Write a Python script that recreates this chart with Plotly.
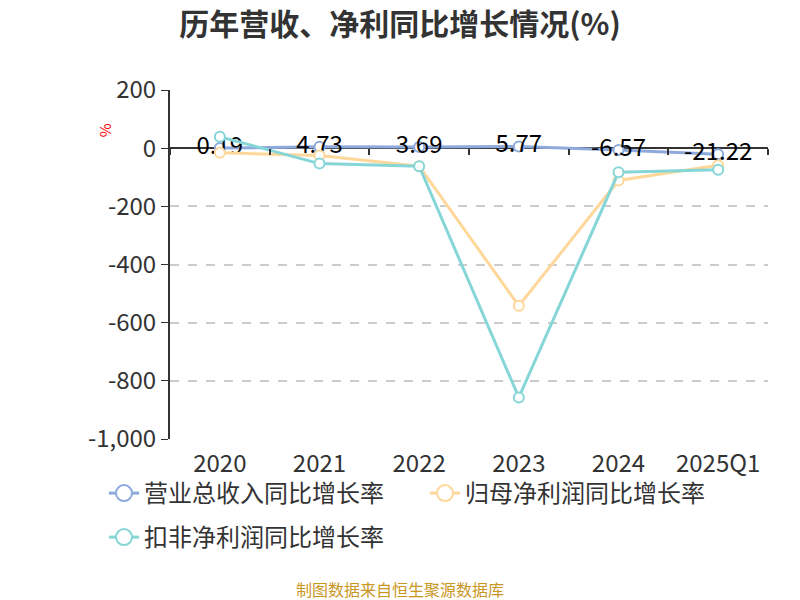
import plotly.graph_objects as go

FONT = "Noto Sans CJK SC"

years = ["2020", "2021", "2022", "2023", "2024", "2025Q1"]
revenue_growth = [0.19, 4.73, 3.69, 5.77, -6.57, -21.22]
net_profit_growth = [-16, -25, -62, -542, -111, -59]
deducted_profit_growth = [39, -53, -62, -857, -83, -74]
y_ticks = [200, 0, -200, -400, -600, -800, -1000]
y_tick_text = ["200", "0", "-200", "-400", "-600", "-800", "-1,000"]

series_names = ["营业总收入同比增长率", "归母净利润同比增长率", "扣非净利润同比增长率"]

BLUE = "#8eaadc"
ORANGE = "#fed89a"
CYAN = "#86d6d8"


def line_trace(name, values, color, labels=False):
    return go.Scatter(
        x=years,
        y=values,
        name=name,
        showlegend=False,
        mode="lines+markers+text" if labels else "lines+markers",
        text=[f"{v:.2f}" for v in values] if labels else None,
        textposition="middle center",
        textfont=dict(size=24, color="#000000", family=FONT),
        line=dict(color=color, width=3),
        marker=dict(size=10, color="white", line=dict(color=color, width=2)),
        cliponaxis=False,
    )


def legend_entry(name, color, legend):
    """Legend-only stand-in so the legend circle can be larger than the plot markers."""
    return go.Scatter(
        x=[None],
        y=[None],
        name=name,
        legend=legend,
        mode="lines+markers",
        line=dict(color=color, width=3),
        marker=dict(size=18, color="white", line=dict(color=color, width=2)),
        hoverinfo="skip",
    )


fig = go.Figure()
fig.add_trace(line_trace(series_names[0], revenue_growth, BLUE, labels=True))
fig.add_trace(line_trace(series_names[1], net_profit_growth, ORANGE))
fig.add_trace(line_trace(series_names[2], deducted_profit_growth, CYAN))
fig.add_trace(legend_entry(series_names[0], BLUE, "legend"))
fig.add_trace(legend_entry(series_names[1], ORANGE, "legend"))
fig.add_trace(legend_entry(series_names[2], CYAN, "legend2"))

# invisible trace that carries the tick marks drawn on the zero line
fig.add_trace(
    go.Scatter(x=years, y=[None] * len(years), xaxis="x2", showlegend=False, hoverinfo="skip")
)

legend_style = dict(
    orientation="h",
    x=(104 - 170) / 598,
    xanchor="left",
    yanchor="top",
    bgcolor="rgba(0,0,0,0)",
    font=dict(size=24, color="#333333"),
    entrywidth=276,
)

fig.update_layout(
    width=800,
    height=600,
    plot_bgcolor="white",
    paper_bgcolor="white",
    font=dict(family=FONT, color="#333333", size=24),
    margin=dict(l=170, r=32, t=90, b=161, autoexpand=False),
    title=dict(
        text="<b>历年营收、净利同比增长情况(%)</b>",
        x=0.5,
        xanchor="center",
        y=1 - 24 / 600,
        yanchor="middle",
        font=dict(size=30, color="#333333", family=FONT),
    ),
    xaxis=dict(
        type="category",
        range=[-0.5, 5.5],
        showline=False,
        showgrid=False,
        ticks="",
        tickfont=dict(size=24, color="#333333"),
        ticklabelstandoff=8,
    ),
    xaxis2=dict(
        type="category",
        overlaying="x",
        anchor="free",
        position=1000 / 1200,
        range=[-0.5, 5.5],
        showline=False,
        showgrid=False,
        ticks="outside",
        tickson="boundaries",
        ticklen=6,
        tickwidth=1.5,
        tickcolor="#333333",
        showticklabels=False,
    ),
    yaxis=dict(
        range=[-1000, 200],
        tickvals=y_ticks,
        ticktext=y_tick_text,
        showline=True,
        linecolor="#333333",
        linewidth=2,
        ticks="outside",
        ticklen=7,
        tickcolor="#333333",
        tickfont=dict(size=24, color="#333333"),
        showgrid=True,
        gridcolor="#cccccc",
        griddash="dash",
        gridwidth=1.5,
        zeroline=True,
        zerolinecolor="#333333",
        zerolinewidth=2,
    ),
    legend=dict(legend_style, y=-(471 - 439) / 349),
    legend2=dict(legend_style, y=-(515 - 439) / 349),
    showlegend=True,
)

fig.add_annotation(
    text="%",
    xref="paper",
    yref="paper",
    x=-0.13,
    y=0.91,
    showarrow=False,
    textangle=-90,
    font=dict(size=15, color="red"),
)

fig.add_annotation(
    text="制图数据来自恒生聚源数据库",
    xref="paper",
    yref="paper",
    x=(400 - 170) / 598,
    y=-(589 - 439) / 349,
    xanchor="center",
    yanchor="middle",
    showarrow=False,
    font=dict(size=16, color="#c9961e"),
)

# drop the page's default body margin so the figure sits at the window corner
fig.write_html(
    "out.html",
    config={"displayModeBar": False},
    post_script="document.body.style.margin = '0';",
)
